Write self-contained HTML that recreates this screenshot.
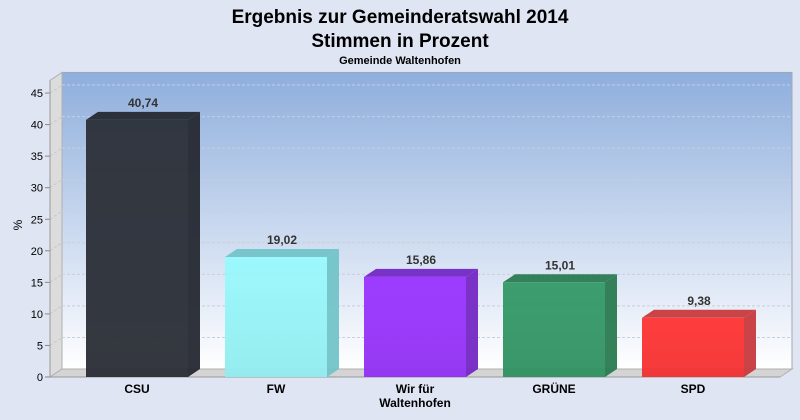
<!DOCTYPE html>
<html><head><meta charset="utf-8"><style>
body{margin:0;background:#dfe5f3;}
svg{display:block;font-family:"Liberation Sans",sans-serif;}
</style></head><body>
<svg id="c" width="800" height="420">
<defs>
<linearGradient id="bg" x1="0" y1="0" x2="0" y2="1"><stop offset="0" stop-color="#8eaedd"/><stop offset="1" stop-color="#ffffff"/></linearGradient>
<linearGradient id="sh" x1="0" y1="0" x2="0" y2="1"><stop offset="0" stop-color="#000" stop-opacity="0"/><stop offset="1" stop-color="#000" stop-opacity="0.05"/></linearGradient>
</defs>
<rect width="800" height="420" fill="#dfe5f3"/>
<text x="400" y="23" text-anchor="middle" font-size="19" font-weight="bold" fill="#000">Ergebnis zur Gemeinderatswahl 2014</text>
<text x="400" y="47" text-anchor="middle" font-size="19" font-weight="bold" fill="#000">Stimmen in Prozent</text>
<text x="400" y="64" text-anchor="middle" font-size="11" font-weight="bold" fill="#000">Gemeinde Waltenhofen</text>
<text transform="translate(22,225) rotate(-90)" text-anchor="middle" font-size="12" fill="#000">%</text>
<g id="plot"></g>
</svg>
<script>
const categories=["CSU","FW","Wir für|Waltenhofen","GRÜNE","SPD"];
const values=[40.74,19.02,15.86,15.01,9.38];
const labels=["40,74","19,02","15,86","15,01","9,38"];
const colors=["#2b2f38","#99f9fc","#9933ff","#339966","#ff3333"];
const sides=["#252830","#72c4c8","#7428c4","#2a7a50","#c7393d"];
const ticks=[0,5,10,15,20,25,30,35,40,45];
const NS="http://www.w3.org/2000/svg";
const g=document.getElementById('plot');
const x0=50,y0=377,dx=12,dy=8,right=780;
const yS=v=>y0-v*6.31;
const xC=i=>137+i*139;
const bw=102;
function mk(t,a,p){const e=document.createElementNS(NS,t);for(const k in a)e.setAttribute(k,a[k]);(p||g).appendChild(e);return e;}
let e;
e=mk('rect',{x:x0+dx,y:yS(47)-dy,width:right-x0,height:y0-yS(47),fill:'url(#bg)',stroke:'#a0a8b8'});

e=mk('polygon',{points:`${x0},${yS(47)} ${x0+dx},${yS(47)-dy} ${x0+dx},${y0-dy} ${x0},${y0}`,fill:'#dcdcdc',stroke:'#b0b0b0'});

e=mk('polygon',{points:`${x0},${y0} ${x0+dx},${y0-dy} ${right+dx},${y0-dy} ${right},${y0}`,fill:'#d4d4d4',stroke:'#b0b0b0'});

ticks.forEach(t=>{const y=yS(t);
 if(t>0){e=mk('line',{x1:x0+dx,y1:y-dy,x2:right+dx,y2:y-dy,stroke:'#c8cfdc','stroke-dasharray':'3,2'});
 
 e=mk('line',{x1:x0,y1:y,x2:x0+dx,y2:y-dy,stroke:'#c8c8c8','stroke-dasharray':'3,2'});
 }
 e=mk('line',{x1:x0-5,y1:y,x2:x0,y2:y,stroke:'#888'});
 
 e=mk('text',{x:x0-7,y:y+4,'text-anchor':'end','font-size':11,fill:'#000'});e.textContent=t;
 
});
e=mk('line',{x1:x0,y1:yS(47),x2:x0,y2:y0,stroke:'#999'});

e=mk('line',{x1:x0,y1:y0,x2:right,y2:y0,stroke:'#999'});

values.forEach((v,i)=>{const l=xC(i)-bw/2,r=l+bw,t=yS(v);
 const bg=mk('g',{});
 
 
 mk('polygon',{points:`${r},${t} ${r+dx},${t-dy} ${r+dx},${y0-dy} ${r},${y0}`,fill:sides[i],opacity:0.95},bg);
 mk('polygon',{points:`${l},${t} ${l+dx},${t-dy} ${r+dx},${t-dy} ${r},${t}`,fill:sides[i],opacity:0.95},bg);
 mk('rect',{x:l,y:t,width:bw,height:y0-t,fill:colors[i],opacity:0.95},bg);
 mk('rect',{x:l,y:t,width:bw,height:y0-t,fill:'url(#sh)'},bg);
 e=mk('text',{x:xC(i)+6,y:t-dy-5,'text-anchor':'middle','font-size':12,'font-weight':'bold',fill:'#333'});e.textContent=labels[i];
 
 const parts=categories[i].split('|');
 parts.forEach((p,k)=>{e=mk('text',{x:xC(i),y:393+k*14,'text-anchor':'middle','font-size':12,'font-weight':'bold',fill:'#000'});e.textContent=p;
 });
});
</script>
</body></html>
